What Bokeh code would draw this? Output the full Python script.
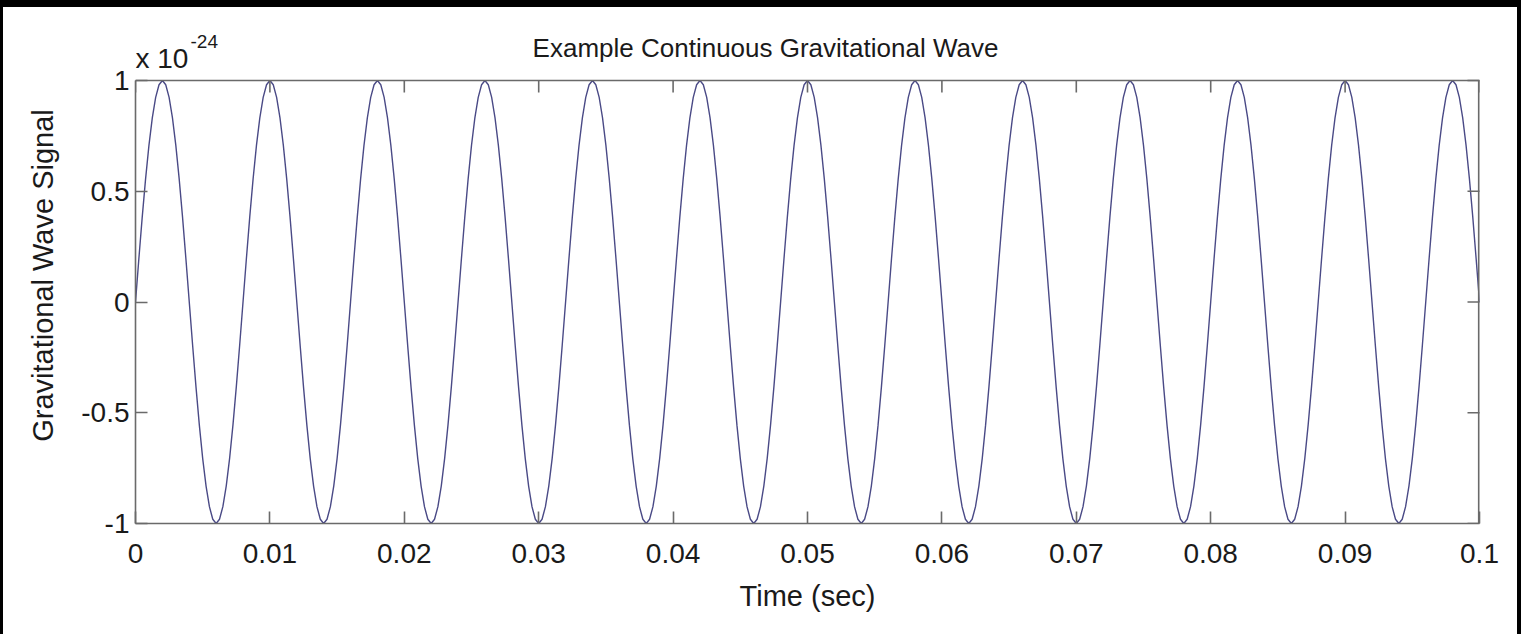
from bokeh.plotting import figure
from bokeh.models import Range1d, FixedTicker, Div
from bokeh.core.properties import value
from bokeh.layouts import column, row
from bokeh.embed import file_html
from bokeh.resources import INLINE
import numpy as np

# ---- data ----
title_text = "Example Continuous Gravitational Wave"
x_label = "Time (sec)"
y_label = "Gravitational Wave Signal"
y_scale_text = "x 10"
y_scale_exp = "-24"

x_ticks = [0, 0.01, 0.02, 0.03, 0.04, 0.05, 0.06, 0.07, 0.08, 0.09, 0.1]
x_tick_labels = ["0", "0.01", "0.02", "0.03", "0.04", "0.05", "0.06", "0.07", "0.08", "0.09", "0.1"]
y_ticks = [-1, -0.5, 0, 0.5, 1]
y_tick_labels = ["-1", "-0.5", "0", "0.5", "1"]

time_start = 0.0
time_step = 0.00025  # sample spacing (sec)

# signal in units of 1e-24, sampled every time_step
signal = [
    0, .195, .383, .556, .707, .831, .924, .981, 1, .981, .924, .831, .707, .556, .383, .195,
    0, -.195, -.383, -.556, -.707, -.831, -.924, -.981, -1, -.981, -.924, -.831, -.707, -.556, -.383, -.195,
    0, .195, .383, .556, .707, .831, .924, .981, 1, .981, .924, .831, .707, .556, .383, .195,
    0, -.195, -.383, -.556, -.707, -.831, -.924, -.981, -1, -.981, -.924, -.831, -.707, -.556, -.383, -.195,
    0, .195, .383, .556, .707, .831, .924, .981, 1, .981, .924, .831, .707, .556, .383, .195,
    0, -.195, -.383, -.556, -.707, -.831, -.924, -.981, -1, -.981, -.924, -.831, -.707, -.556, -.383, -.195,
    0, .195, .383, .556, .707, .831, .924, .981, 1, .981, .924, .831, .707, .556, .383, .195,
    0, -.195, -.383, -.556, -.707, -.831, -.924, -.981, -1, -.981, -.924, -.831, -.707, -.556, -.383, -.195,
    0, .195, .383, .556, .707, .831, .924, .981, 1, .981, .924, .831, .707, .556, .383, .195,
    0, -.195, -.383, -.556, -.707, -.831, -.924, -.981, -1, -.981, -.924, -.831, -.707, -.556, -.383, -.195,
    0, .195, .383, .556, .707, .831, .924, .981, 1, .981, .924, .831, .707, .556, .383, .195,
    0, -.195, -.383, -.556, -.707, -.831, -.924, -.981, -1, -.981, -.924, -.831, -.707, -.556, -.383, -.195,
    0, .195, .383, .556, .707, .831, .924, .981, 1, .981, .924, .831, .707, .556, .383, .195,
    0, -.195, -.383, -.556, -.707, -.831, -.924, -.981, -1, -.981, -.924, -.831, -.707, -.556, -.383, -.195,
    0, .195, .383, .556, .707, .831, .924, .981, 1, .981, .924, .831, .707, .556, .383, .195,
    0, -.195, -.383, -.556, -.707, -.831, -.924, -.981, -1, -.981, -.924, -.831, -.707, -.556, -.383, -.195,
    0, .195, .383, .556, .707, .831, .924, .981, 1, .981, .924, .831, .707, .556, .383, .195,
    0, -.195, -.383, -.556, -.707, -.831, -.924, -.981, -1, -.981, -.924, -.831, -.707, -.556, -.383, -.195,
    0, .195, .383, .556, .707, .831, .924, .981, 1, .981, .924, .831, .707, .556, .383, .195,
    0, -.195, -.383, -.556, -.707, -.831, -.924, -.981, -1, -.981, -.924, -.831, -.707, -.556, -.383, -.195,
    0, .195, .383, .556, .707, .831, .924, .981, 1, .981, .924, .831, .707, .556, .383, .195,
    0, -.195, -.383, -.556, -.707, -.831, -.924, -.981, -1, -.981, -.924, -.831, -.707, -.556, -.383, -.195,
    0, .195, .383, .556, .707, .831, .924, .981, 1, .981, .924, .831, .707, .556, .383, .195,
    0, -.195, -.383, -.556, -.707, -.831, -.924, -.981, -1, -.981, -.924, -.831, -.707, -.556, -.383, -.195,
    0, .195, .383, .556, .707, .831, .924, .981, 1, .981, .924, .831, .707, .556, .383, .195,
    0,
]
time = time_start + time_step * np.arange(len(signal))

# ---- layout / styling constants (pixels) ----
FONT = "Liberation Sans"
TEXT_COLOR = "#1a1a1a"
AXIS_COLOR = "#6a6a6a"
LINE_COLOR = "#4a4a86"
TICK_LEN = 12
AXIS_W = 1.6
FIG_W, FIG_H = 1514, 627
BOX_LEFT, BOX_RIGHT_GAP = 132, 38
BOX_TOP, BOX_H = 73, 443
FRAME_TOP = 20  # frame extends above the box to hold the title texts

x_lo, x_hi = x_ticks[0], x_ticks[-1]
y_lo, y_hi = y_ticks[0], y_ticks[-1]
upp = (y_hi - y_lo) / BOX_H  # data units per pixel (vertical)

p = figure(
    width=FIG_W, height=FIG_H,
    output_backend="svg", toolbar_location=None,
    x_range=Range1d(x_lo, x_hi),
    y_range=Range1d(y_lo, y_hi + (BOX_TOP - FRAME_TOP) * upp),
    min_border_left=BOX_LEFT, min_border_right=BOX_RIGHT_GAP,
    min_border_top=FRAME_TOP, min_border_bottom=FIG_H - BOX_TOP - BOX_H,
    background_fill_color="white", border_fill_color="white",
    outline_line_color=None,
)
p.grid.visible = False

# the signal
p.line(time, signal, line_color=LINE_COLOR, line_width=1.4)


def style_axis(ax, ticks, label_map):
    ax.ticker = FixedTicker(ticks=ticks)
    ax.axis_line_color = AXIS_COLOR
    ax.axis_line_width = AXIS_W
    ax.major_tick_line_color = AXIS_COLOR
    ax.major_tick_line_width = AXIS_W
    ax.major_tick_in = TICK_LEN
    ax.major_tick_out = 0
    ax.minor_tick_line_color = None
    ax.major_label_text_font = FONT
    ax.major_label_text_color = TEXT_COLOR
    ax.major_label_overrides = label_map
    ax.major_label_text_font_size = "28px"
    ax.axis_label_text_font = FONT
    ax.axis_label_text_font_size = "29px"
    ax.axis_label_text_font_style = "normal"
    ax.axis_label_text_color = TEXT_COLOR


xax = p.xaxis[0]
style_axis(xax, x_ticks, {t: s for t, s in zip(x_ticks, x_tick_labels)})
xax.major_label_standoff = 20
xax.axis_label = x_label
xax.axis_label_standoff = 14

yax = p.yaxis[0]
style_axis(yax, y_ticks, {t: s for t, s in zip(y_ticks, y_tick_labels)})
yax.bounds = (y_lo, y_hi)
yax.major_label_standoff = 6
yax.axis_label = y_label
yax.axis_label_standoff = 19

# top and right edges of the box
p.segment(x0=[x_lo], y0=[y_hi], x1=[x_hi], y1=[y_hi], line_color=AXIS_COLOR, line_width=AXIS_W)
p.segment(x0=[x_hi], y0=[y_lo], x1=[x_hi], y1=[y_hi], line_color=AXIS_COLOR, line_width=2 * AXIS_W)
# inward ticks on the top edge
p.segment(x0=x_ticks, y0=[y_hi] * len(x_ticks), x1=x_ticks,
          y1=[y_hi - TICK_LEN * upp] * len(x_ticks), line_color=AXIS_COLOR, line_width=AXIS_W)
# inward ticks on the right edge (outer half of each dash is clipped by the frame)
p.scatter([x_hi] * len(y_ticks), y_ticks, marker="dash", size=2 * TICK_LEN,
          line_color=AXIS_COLOR, line_width=AXIS_W)

# title and exponent texts above the box
p.text(x=[(x_lo + x_hi) / 2], y=[y_hi + 33 * upp], text=[title_text], x_offset=-42,
       text_font=value(FONT), text_font_size="26px", text_color=TEXT_COLOR,
       text_align="center", text_baseline="alphabetic")
p.text(x=[x_lo], y=[y_hi + 22 * upp], text=[y_scale_text],
       text_font=value(FONT), text_font_size="28px", text_color=TEXT_COLOR,
       text_align="left", text_baseline="alphabetic")
p.text(x=[x_lo], y=[y_hi + 39 * upp], text=[y_scale_exp], x_offset=55,
       text_font=value(FONT), text_font_size="19px", text_color=TEXT_COLOR,
       text_align="left", text_baseline="alphabetic")

top_bar = Div(width=1521, height=7, margin=0, styles={"background-color": "black"})
left_bar = Div(width=3, height=FIG_H, margin=0, styles={"background-color": "black"})
right_bar = Div(width=4, height=FIG_H, margin=0, styles={"background-color": "black"})
layout = column(top_bar, row(left_bar, p, right_bar, spacing=0), spacing=0)

open("out.html", "w").write(file_html(layout, INLINE))
